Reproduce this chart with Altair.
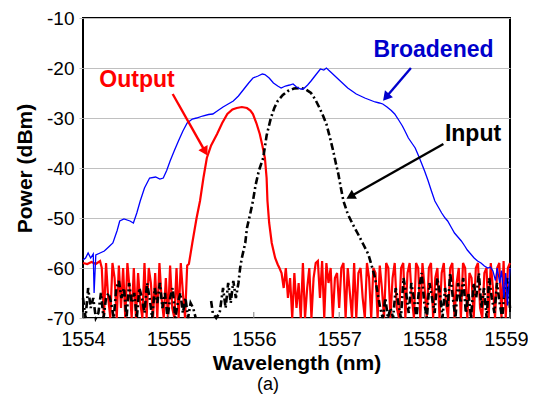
import math
import numpy as np
import pandas as pd
import altair as alt

FONT = "Liberation Sans"
X_TICKS = [1554, 1555, 1556, 1557, 1558, 1559]
Y_TICKS = [-70, -60, -50, -40, -30, -20, -10]

# ---------------- Broadened (blue) ----------------
blue_wl = [1554.00, 1554.03, 1554.06, 1554.09, 1554.12, 1554.13, 1554.15, 1554.20, 1554.25,
           1554.30, 1554.35, 1554.40, 1554.43, 1554.48, 1554.55, 1554.59, 1554.63, 1554.67,
           1554.72, 1554.78, 1554.85, 1554.90, 1554.94, 1554.98, 1555.02, 1555.07, 1555.12,
           1555.17, 1555.22, 1555.28, 1555.33, 1555.40, 1555.47, 1555.52, 1555.58, 1555.64,
           1555.70, 1555.76, 1555.82, 1555.88, 1555.94, 1555.99, 1556.05, 1556.10, 1556.13,
           1556.18, 1556.23, 1556.28, 1556.32, 1556.37, 1556.42, 1556.46, 1556.50, 1556.55,
           1556.58, 1556.63, 1556.67, 1556.72, 1556.78, 1556.82, 1556.85, 1556.90, 1556.95,
           1557.00, 1557.05, 1557.10, 1557.15, 1557.20, 1557.25, 1557.30, 1557.36, 1557.42,
           1557.47, 1557.51, 1557.56, 1557.61, 1557.65, 1557.70, 1557.74, 1557.77, 1557.81,
           1557.85, 1557.89, 1557.93, 1557.97, 1558.00, 1558.04, 1558.08, 1558.12, 1558.16,
           1558.20, 1558.24, 1558.27, 1558.31, 1558.35, 1558.39, 1558.43, 1558.47, 1558.50,
           1558.54, 1558.58, 1558.62, 1558.66, 1558.70, 1558.74, 1558.77, 1558.80, 1558.83,
           1558.85, 1558.88, 1558.90, 1558.93, 1558.95, 1558.97, 1559.00]
blue_pw = [-58.4, -58.0, -57.0, -58.0, -57.2, -65.0, -57.4, -57.0, -56.6,
           -55.8, -55.0, -52.5, -50.6, -50.2, -50.6, -51.0, -49.0, -46.6,
           -44.0, -42.0, -41.8, -42.2, -42.0, -40.5, -38.6, -36.5, -34.5,
           -32.6, -31.0, -30.2, -30.0, -29.6, -29.3, -29.2, -28.5, -27.8,
           -27.2, -26.6, -25.6, -24.3, -23.0, -22.0, -21.6, -21.2, -21.3,
           -22.0, -23.0, -23.6, -24.0, -23.6, -23.4, -23.2, -23.8, -24.2,
           -24.2, -23.4, -22.6, -21.5, -20.2, -20.4, -20.0, -20.8, -21.6,
           -22.4, -23.2, -24.0, -24.6, -25.2, -25.6, -26.0, -26.4, -26.8,
           -27.0, -27.2, -27.8, -28.5, -29.2, -30.5, -31.6, -32.6, -34.0,
           -35.0, -36.0, -37.6, -39.3, -40.6, -42.5, -44.6, -46.6, -47.8,
           -49.0, -50.0, -50.6, -51.8, -53.0, -53.8, -54.6, -55.6, -56.4,
           -57.2, -58.0, -58.6, -59.0, -59.6, -60.0, -59.8, -60.6, -62.5,
           -60.0, -63.0, -60.5, -66.0, -61.0, -67.5, -60.0]

# ---------------- Input (black dash-dot) ----------------
input_noise_left_range = [1554.00, 1555.32]
input_noise_left = [-66, -70, -64, -68, -66, -70, -69, -65, -70, -66, -65, -67, -70, -64, -62.6,
                    -66, -64, -70, -63, -67, -65, -70, -64, -66, -69, -63, -66, -70, -64, -67,
                    -63, -68, -65, -70, -66, -64, -70, -67, -65, -69, -66, -70, -67, -68, -70]
input_main_wl = [1555.50, 1555.52, 1555.56, 1555.60, 1555.64, 1555.67, 1555.70, 1555.73, 1555.76,
                 1555.79, 1555.82, 1555.84, 1555.86, 1555.90, 1555.92, 1555.96, 1555.99, 1556.02,
                 1556.06, 1556.11, 1556.15, 1556.20, 1556.24, 1556.28, 1556.34, 1556.40, 1556.47,
                 1556.55, 1556.61, 1556.67, 1556.72, 1556.77, 1556.81, 1556.85, 1556.89, 1556.93,
                 1556.96, 1556.99, 1557.02, 1557.05, 1557.10, 1557.16, 1557.22, 1557.28, 1557.34,
                 1557.38, 1557.42, 1557.45, 1557.48, 1557.51]
input_main_pw = [-66.6, -69, -70, -69, -64, -68, -63, -67, -62.6,
                 -66, -63, -60, -58, -55, -52, -49, -46.6, -43.5,
                 -40.5, -38, -33.5, -30, -28, -26.6, -25.4, -24.6, -24.1,
                 -24, -24.3, -25, -26.3, -28, -29.5, -31.2, -33.8, -36.6,
                 -39, -41.2, -44, -46.6, -49.2, -51.3, -53.2, -55.2, -57.2,
                 -59.5, -62, -65, -68, -70]
input_noise_right_range = [1557.54, 1559.00]
input_noise_right = [-66, -70, -68, -70, -64, -67, -70, -62, -65, -69, -63, -66, -70, -64, -61,
                     -67, -70, -63, -66, -69, -62, -65, -70, -64, -68, -61, -66, -70, -63, -67,
                     -62, -69, -65, -70, -63, -66, -61, -68, -64, -70, -62, -66, -69, -63, -67,
                     -70, -64, -62, -68]

# ---------------- Output (red) ----------------
output_flat_wl = [1554.00, 1554.05, 1554.10, 1554.15, 1554.20]
output_flat_pw = [-59.0, -59.2, -58.8, -59.2, -58.6]
output_noise_left_range = [1554.22, 1555.22]
output_noise_left = [-60, -70, -59, -66, -70, -59, -62, -70, -59.5, -68, -60, -70, -59, -64,
                     -70, -60, -70, -61, -67, -70, -59, -70, -60, -63, -70, -61, -70, -59,
                     -66, -70, -62, -70, -59.5, -68, -70, -60, -70, -59, -65, -70, -59.5]
output_peak_wl = [1555.24, 1555.28, 1555.33, 1555.37, 1555.41, 1555.45, 1555.50, 1555.57,
                  1555.63, 1555.69, 1555.75, 1555.80, 1555.86, 1555.92, 1555.96, 1555.99,
                  1556.03, 1556.07, 1556.10, 1556.13, 1556.15, 1556.16, 1556.18, 1556.21,
                  1556.25, 1556.28]
output_peak_pw = [-59.2, -55, -50, -46.6, -42, -38, -35.5, -33.2,
                  -31, -29.2, -28.3, -28, -27.8, -28, -28.5, -29.2,
                  -31, -33.2, -35.5, -38, -42, -46.6, -51, -55,
                  -58, -59.3]
output_noise_right_range = [1556.30, 1559.00]
output_noise_right = [-60, -61, -64, -60, -66, -62, -70, -61, -68, -63, -70, -59, -70, -64, -60,
                      -70, -62, -59, -58.6, -66, -58.6, -70, -59, -63, -60, -70, -62, -61, -68,
                      -60, -59, -70, -60, -65, -70, -59, -70, -61, -60, -66, -70, -59, -62, -70,
                      -60, -61, -70, -59.5, -64, -70, -59, -60, -70, -62, -59, -68, -70, -60,
                      -59, -70, -61, -59, -66, -70, -59, -60, -70, -59, -64, -70, -60, -59, -70,
                      -62, -60, -70, -61, -59, -67, -70, -60, -59, -70, -63, -60, -70, -59, -60,
                      -70, -61, -62, -70, -60, -59, -68, -70, -61, -60, -70, -59, -64, -70, -60,
                      -59, -70, -58.6, -70, -60, -59]

# ---------------- Annotations ----------------
labels = ["Output", "Broadened", "Input"]
label_colors = ["#ff0000", "#0000cc", "#000000"]
label_wl = [1554.632, 1558.104, 1558.567]
label_pw = [-22.4, -16.4, -33.1]
arrow_start_wl = [1555.05, 1557.84, 1558.22]
arrow_start_pw = [-25.2, -20.0, -35.2]
arrow_tip_wl = [1555.46, 1557.51, 1557.08]
arrow_tip_pw = [-37.6, -26.6, -46.2]

# ---------------- build tables ----------------
rows = []


def add(series, seg, wls, pws):
    for w, p in zip(wls, pws):
        rows.append({"series": series, "seg": seg, "idx": len(rows), "wl": w, "pw": p})


def grid(rng, vals):
    return list(np.linspace(rng[0], rng[1], len(vals)))


add("Output", 0,
    output_flat_wl + grid(output_noise_left_range, output_noise_left) + output_peak_wl
    + grid(output_noise_right_range, output_noise_right),
    output_flat_pw + output_noise_left + output_peak_pw + output_noise_right)
add("Input", 0, grid(input_noise_left_range, input_noise_left), input_noise_left)
add("Input", 1, input_main_wl + grid(input_noise_right_range, input_noise_right),
    input_main_pw + input_noise_right)
add("Broadened", 0, blue_wl, blue_pw)
df = pd.DataFrame(rows)

W, H = 427, 300
PX_X = W / 5.0   # px per nm
PX_Y = H / 60.0  # px per dB
arr = []
for i in range(3):
    dx = (arrow_tip_wl[i] - arrow_start_wl[i]) * PX_X
    dy = -(arrow_tip_pw[i] - arrow_start_pw[i]) * PX_Y  # screen-down positive
    L = math.hypot(dx, dy)
    ux, uy = dx / L, dy / L
    ang = math.degrees(math.atan2(dx, -dy)) % 360
    back = 5.0
    hx = arrow_tip_wl[i] - ux * back / PX_X
    hy = arrow_tip_pw[i] + uy * back / PX_Y
    arr.append({"wl": arrow_start_wl[i], "pw": arrow_start_pw[i], "wl2": hx, "pw2": hy,
                "hx": hx, "hy": hy, "ang": ang, "col": label_colors[i]})
arr_df = pd.DataFrame(arr)
lab_df = pd.DataFrame({"wl": label_wl, "pw": label_pw, "text": labels, "col": label_colors})
tick_df = pd.DataFrame({"wl": X_TICKS, "pw": [-70] * 6, "pw2": [-68.8] * 6})

xs = alt.Scale(domain=[1554, 1559], nice=False, zero=False)
ys = alt.Scale(domain=[-70, -10], nice=False, zero=False)

X = alt.X("wl:Q", scale=xs, axis=alt.Axis(values=X_TICKS, title="Wavelength (nm)", grid=False,
                                          tickSize=0, labelPadding=11, titlePadding=3,
                                          labelFlush=False, labelOverlap=False,
                                          labelOffset={"condition": {"test": "datum.value == 1559",
                                                                     "value": -4},
                                                       "value": 0},
                                          labelExpr="datum.value + ''"))
Y = alt.Y("pw:Q", scale=ys, axis=alt.Axis(values=Y_TICKS, title="Power (dBm)", grid=True,
                                          tickSize=4, labelPadding=5, titlePadding=11,
                                          labelFlush=False, labelOverlap=False,
                                          labelFontSize=19,
                                          labelExpr="datum.value + ''"))

base = alt.Chart(df)
red = base.transform_filter(alt.datum.series == "Output").mark_line(
    color="#ff0000", strokeWidth=2.2).encode(x=X, y=Y, detail="seg:N", order="idx:Q")
black = base.transform_filter(alt.datum.series == "Input").mark_line(
    color="#000000", strokeWidth=2.6, strokeDash=[7, 3, 2, 3]).encode(
    x="wl:Q", y="pw:Q", detail="seg:N", order="idx:Q")
blue = base.transform_filter(alt.datum.series == "Broadened").mark_line(
    color="#0000ff", strokeWidth=1.3).encode(x="wl:Q", y="pw:Q", detail="seg:N", order="idx:Q")

ticks = alt.Chart(tick_df).mark_rule(color="#808080", strokeWidth=1).encode(
    x="wl:Q", y="pw:Q", y2="pw2:Q")

arrows = alt.Chart(arr_df).mark_rule(strokeWidth=2.4).encode(
    x="wl:Q", y="pw:Q", x2="wl2:Q", y2="pw2:Q", color=alt.Color("col:N", scale=None))
heads = alt.Chart(arr_df).mark_point(shape="triangle-up", filled=True, size=110, opacity=1).encode(
    x=alt.X("hx:Q"), y=alt.Y("hy:Q"), angle=alt.Angle("ang:Q", scale=None),
    color=alt.Color("col:N", scale=None))
texts = alt.Chart(lab_df).mark_text(font=FONT, fontSize=23, fontWeight="bold",
                                    align="center", baseline="middle").encode(
    x="wl:Q", y="pw:Q", text="text:N", color=alt.Color("col:N", scale=None))
sub = alt.Chart(pd.DataFrame({"t": ["(a)"]})).mark_text(
    font=FONT, fontSize=18, align="center", baseline="middle", color="black").encode(
    text="t:N", x=alt.value(185), y=alt.value(367))

chart = alt.layer(red, ticks, black, blue, arrows, heads, texts, sub).properties(
    width=W, height=H,
    autosize=alt.AutoSizeParams(type="none"),
    padding={"left": 75, "top": 10, "right": 18, "bottom": 76},
).configure_view(stroke="black", strokeWidth=2).configure_axis(
    domain=False, gridColor="#c0c0c0", gridWidth=1, tickColor="#c0c0c0",
    labelFont=FONT, labelFontSize=20, labelColor="black",
    titleFont=FONT, titleFontSize=21, titleFontWeight="bold", titleColor="black",
)

chart.save("out.html", embed_options={"renderer": "svg", "actions": False})
